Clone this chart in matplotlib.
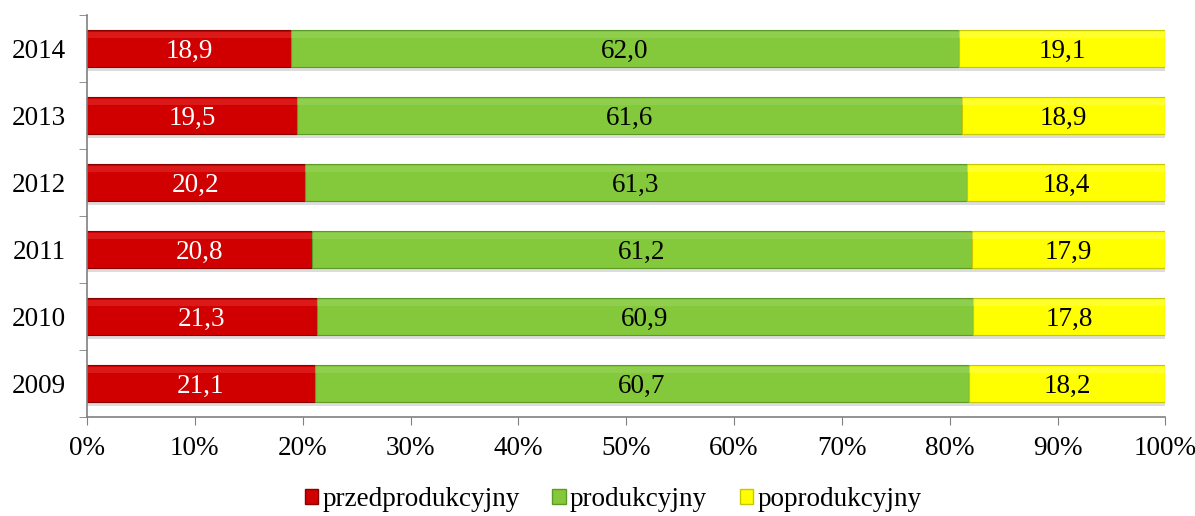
import matplotlib
matplotlib.use("Agg")
import matplotlib.pyplot as plt
import numpy as np
from matplotlib.patches import Patch

years = ["2009", "2010", "2011", "2012", "2013", "2014"]
przed = [21.1, 21.3, 20.8, 20.2, 19.5, 18.9]
prod = [60.7, 60.9, 61.2, 61.3, 61.6, 62.0]
poprod = [18.2, 17.8, 17.9, 18.4, 18.9, 19.1]
series_names = ["przedprodukcyjny", "produkcyjny", "poprodukcyjny"]

plt.rcParams["font.family"] = ["Liberation Serif", "DejaVu Serif"]

colors = ["#D00000", "#84C83C", "#FFFF00"]
edges = ["#8A0000", "#5E9A28", "#C8C800"]
highlights = ["#F04848", "#A8DE70", "#FFFF80"]
text_colors = ["white", "black", "black"]

fig = plt.figure(figsize=(11.95, 5.16), dpi=100)
ax = fig.add_axes([0.0728, 0.192, 0.9024, 0.779])

y = np.arange(len(years))
h = 0.54
data = [np.array(przed), np.array(prod), np.array(poprod)]
left = np.zeros(len(years))
total = sum(data)

# shadow under bars
ax.barh(y - 0.06, 100, height=h, left=0, color="#DCDCDC", zorder=1)

for vals, c, ec, hl, tc in zip(data, colors, edges, highlights, text_colors):
    w = vals / total * 100
    ax.barh(y, w, height=h, left=left, color=c, edgecolor=ec, linewidth=0.8, zorder=2)
    # soft top highlight for a glossy look
    ax.barh(y + h * 0.38, w, height=h * 0.16, left=left, color=hl, alpha=0.35,
            linewidth=0, zorder=3)
    for yi, li, wi, v in zip(y, left, w, vals):
        ax.text(li + wi / 2, yi, f"{v:.1f}".replace(".", ","), ha="center",
                va="center_baseline", fontsize=19.5, color=tc, zorder=4)
    left = left + w

ax.set_xlim(0, 100)
ax.set_ylim(-0.5, len(years) - 0.5)
ax.set_xticks(np.arange(0, 101, 10))
ax.set_xticklabels([f"{v}%" for v in range(0, 101, 10)], fontsize=19.5)
ax.set_yticks(y)
ax.set_yticklabels(years, fontsize=19.5)
ax.set_yticks(np.arange(-0.5, len(years), 1), minor=True)
ax.tick_params(axis="y", which="major", length=0, pad=15)
ax.tick_params(axis="y", which="minor", length=6, color="#808080", direction="out")
ax.tick_params(axis="x", length=6, color="#808080", direction="out", pad=8)

for s in ["top", "right"]:
    ax.spines[s].set_visible(False)
for s in ["left", "bottom"]:
    ax.spines[s].set_color("#808080")
    ax.spines[s].set_linewidth(1.2)

handles = [Patch(facecolor=c, edgecolor=ec) for c, ec in zip(colors, edges)]
fig.legend(handles, series_names, loc="lower center", bbox_to_anchor=(0.513, -0.04),
           ncol=3, frameon=False, fontsize=19.5, handlelength=0.5, handleheight=0.5,
           handletextpad=0.15, columnspacing=1.2)

fig.savefig("out.png", dpi=100)
